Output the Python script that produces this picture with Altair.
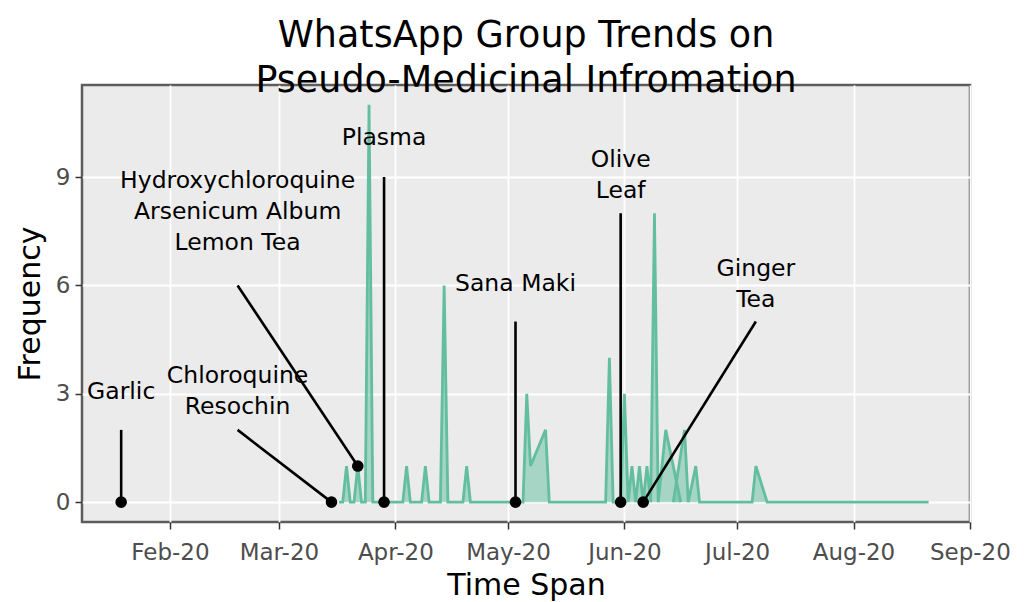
import altair as alt
import pandas as pd

# ---- time series (frequency per day); grp separates two overlapping spikes in June
series_dates = [
    "2020-03-17", "2020-03-18", "2020-03-19", "2020-03-20", "2020-03-21", "2020-03-22",
    "2020-03-23", "2020-03-24", "2020-03-25", "2020-03-26", "2020-04-03", "2020-04-04",
    "2020-04-05", "2020-04-08", "2020-04-09", "2020-04-10", "2020-04-13", "2020-04-14",
    "2020-04-15", "2020-04-19", "2020-04-20", "2020-04-21", "2020-05-05", "2020-05-06",
    "2020-05-07", "2020-05-11", "2020-05-12", "2020-05-27", "2020-05-28", "2020-05-29",
    "2020-05-31", "2020-06-01", "2020-06-02", "2020-06-03", "2020-06-04", "2020-06-05",
    "2020-06-06", "2020-06-07", "2020-06-08", "2020-06-09", "2020-06-10", "2020-06-12",
    "2020-06-16",
    "2020-06-14", "2020-06-17", "2020-06-18", "2020-06-20", "2020-06-21", "2020-07-05",
    "2020-07-06", "2020-07-09", "2020-08-21",
]
series_counts = [
    0, 0, 1, 0, 0, 1,
    0, 0, 11, 0, 0, 1,
    0, 0, 1, 0, 0, 6,
    0, 0, 1, 0, 0, 3,
    1, 2, 0, 0, 4, 0,
    0, 3, 0, 1, 0, 1,
    0, 1, 0, 8, 0, 2,
    0,
    0, 2, 0, 1, 0, 0,
    1, 0, 0,
]
series_group = ["a"] * 43 + ["b"] * 9

# ---- annotations
label_text = [
    "Garlic",
    "Chloroquine\nResochin",
    "Hydroxychloroquine\nArsenicum Album\nLemon Tea",
    "Plasma",
    "Sana Maki",
    "Olive\nLeaf",
    "Ginger\nTea",
]
label_dates = ["2020-01-19", "2020-02-19", "2020-02-19", "2020-03-29",
               "2020-05-03", "2020-05-31", "2020-07-06"]
label_values = [3.05, 3.48, 8.9, 10.08, 6.05, 9.48, 6.46]
segment_start_values = [2, 2, 6, 9, 5, 8, 5]
point_dates = ["2020-01-19", "2020-03-15", "2020-03-22", "2020-03-29",
               "2020-05-03", "2020-05-31", "2020-06-06"]
point_values = [0, 0, 1, 0, 0, 0, 0]

month_ticks = [2, 3, 4, 5, 6, 7, 8, 9]
y_ticks = [0, 3, 6, 9]

series = pd.DataFrame({"date": series_dates, "count": series_counts, "grp": series_group})
notes = pd.DataFrame({
    "label": label_text,
    "ldate": label_dates,
    "lval": label_values,
    "sval": segment_start_values,
    "pdate": point_dates,
    "pval": point_values,
})

FONT = "DejaVu Sans"
TEAL = "#62BE9F"

x_scale = alt.Scale(
    type="utc",
    domain=[
        alt.DateTime(year=2020, month=1, date=8, hours=13, minutes=40, utc=True),
        alt.DateTime(year=2020, month=9, date=1, hours=0, minutes=30, utc=True),
    ],
)
y_scale = alt.Scale(domain=[-0.55, 11.55], nice=False, zero=False)

x_axis = alt.Axis(
    title="Time Span",
    values=[alt.DateTime(year=2020, month=m, date=1, utc=True) for m in month_ticks],
    format="%b-%y",
    labelOverlap=False,
    labelFlush=False,
    labelPadding=12,
    titlePadding=6,
)
y_axis = alt.Axis(title="Frequency", values=y_ticks, labelOverlap=False,
                  labelFlush=False, labelPadding=5, titlePadding=10)

base = alt.Chart(series).encode(
    x=alt.X("date:T", scale=x_scale, axis=x_axis),
    y=alt.Y("count:Q", scale=y_scale, axis=y_axis, stack=None),
    detail="grp:N",
)
area = base.mark_area(color=TEAL, opacity=0.5)
line = base.mark_line(color=TEAL, strokeWidth=2.8)

note_base = alt.Chart(notes)
segments = note_base.mark_rule(color="black", strokeWidth=2.6).encode(
    x=alt.X("ldate:T", scale=x_scale),
    y=alt.Y("sval:Q", scale=y_scale),
    x2="pdate:T",
    y2="pval:Q",
)
points = note_base.mark_circle(color="black", opacity=1, size=135).encode(
    x=alt.X("pdate:T", scale=x_scale),
    y=alt.Y("pval:Q", scale=y_scale),
)
labels = note_base.mark_text(
    font=FONT, fontSize=23.5, color="black", lineBreak="\n", lineHeight=31,
    baseline="middle", align="center",
).encode(
    x=alt.X("ldate:T", scale=x_scale),
    y=alt.Y("lval:Q", scale=y_scale),
    text="label:N",
)

chart = (
    alt.layer(area, line, segments, points, labels)
    .properties(
        width=888,
        height=437,
        autosize="none",
        background="white",
        padding={"left": 74, "top": 77, "right": 46, "bottom": 80},
        title=alt.TitleParams(
            ["WhatsApp Group Trends on", "Pseudo-Medicinal Infromation"],
            font=FONT, fontSize=36.5, fontWeight="normal", color="black",
            anchor="middle", lineHeight=45, offset=-14,
        ),
    )
    .configure_view(fill="#EBEBEB", stroke="#5c5c5c", strokeWidth=2.5)
    .configure_axis(
        domain=False,
        grid=True,
        gridColor="white",
        gridWidth=1.8,
        tickColor="#333333",
        tickSize=7,
        tickWidth=1.5,
        labelColor="#4D4D4D",
        labelFont=FONT,
        labelFontSize=23,
        titleFont=FONT,
        titleFontSize=30,
        titleFontWeight="normal",
        titleColor="black",
    )
)

chart.save("out.html", embed_options={"renderer": "svg", "actions": False})
